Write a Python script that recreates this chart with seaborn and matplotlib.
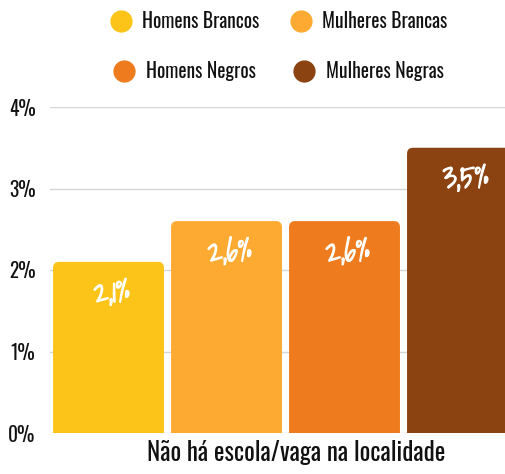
import matplotlib
matplotlib.use("Agg")
import matplotlib.pyplot as plt
from matplotlib.patches import FancyBboxPatch
from matplotlib.lines import Line2D
from matplotlib.transforms import ScaledTranslation
import matplotlib.patheffects as pe
import seaborn as sns
import pandas as pd

categoria = ["Não há escola/vaga na localidade"]
grupos = ["Homens Brancos", "Mulheres Brancas", "Homens Negros", "Mulheres Negras"]
valores = [2.1, 2.6, 2.6, 3.5]
rotulos = ["2,1%", "2,6%", "2,6%", "3,5%"]
cores = ["#FCC419", "#FDAA32", "#EE7C1E", "#8B4311"]
yticks = [0, 1, 2, 3, 4]
ytick_labels = ["0%", "1%", "2%", "3%", "4%"]

FONT = ["Oswald", "DejaVu Sans"]
HAND = ["Shadows Into Light", "DejaVu Sans"]

sns.set_theme(style="white")
plt.rcParams["font.family"] = FONT

df = pd.DataFrame({"cat": categoria * len(grupos), "grupo": grupos, "val": valores})

W, H = 505, 474
fig = plt.figure(figsize=(W / 100, H / 100), dpi=100)
ax = fig.add_axes([49.5 / W, (H - 433) / H, 472 / W, 326 / H])

sns.barplot(data=df, x="cat", y="val", hue="grupo", hue_order=grupos,
            palette=cores, saturation=1, width=0.8, gap=0.06,
            legend=False, ax=ax, zorder=2)

ax.set_xlim(-0.4, 0.4)
ax.set_ylim(0, 4)
ax.set_yticks(yticks)
ax.set_yticklabels(ytick_labels, fontsize=14, color="#111111")
ax.tick_params(axis="y", length=0, pad=10)
ax.tick_params(axis="x", length=0, pad=5, labelsize=18, labelcolor="#111111")
ax.set_xlabel("")
ax.set_ylabel("")
for s in ax.spines.values():
    s.set_visible(False)
ax.yaxis.grid(True, color="#D6D6D6", linewidth=1)
ax.set_axisbelow(True)

for lbl in ax.get_xticklabels():
    lbl.set_transform(lbl.get_transform() + ScaledTranslation(11 / 100, 0, fig.dpi_scale_trans))

fig.canvas.draw()
p0 = ax.transData.transform((0, 0))
p1 = ax.transData.transform((1, 1))
sx = p1[0] - p0[0]
sy = p1[1] - p0[1]
r_px = 6
rects = list(ax.patches)
for i, rct in enumerate(rects):
    x, y = rct.get_x(), rct.get_y()
    w, h = rct.get_width(), rct.get_height()
    fc = rct.get_facecolor()
    rct.remove()
    ext = 0.3
    fb = FancyBboxPatch((x, y - ext), w, h + ext,
                        boxstyle=f"round,pad=0,rounding_size={r_px / sx}",
                        mutation_aspect=sx / sy, facecolor=fc, edgecolor="none",
                        zorder=2, clip_on=True)
    ax.add_patch(fb)
    ax.annotate(rotulos[i], (x + w / 2, h), xytext=(3, -31), textcoords="offset pixels",
                ha="center", va="center", color="white", fontsize=22,
                family=HAND, fontweight="bold", zorder=3,
                path_effects=[pe.withStroke(linewidth=0.9, foreground="white")])

slots = [(185, 21), (369, 21), (185, 71), (369, 71)]
for g, c, (px, py) in zip(grupos, cores, slots):
    hd = Line2D([], [], marker="o", linestyle="none", markersize=15,
                markerfacecolor=c, markeredgecolor=c)
    fig.legend(handles=[hd], labels=[g], loc="center",
               bbox_to_anchor=(px / W, 1 - py / H), frameon=False,
               prop={"family": FONT, "size": 14}, labelcolor="#111111",
               handletextpad=0.6, borderpad=0, handlelength=1.0)

fig.savefig("out.png", dpi=100)
